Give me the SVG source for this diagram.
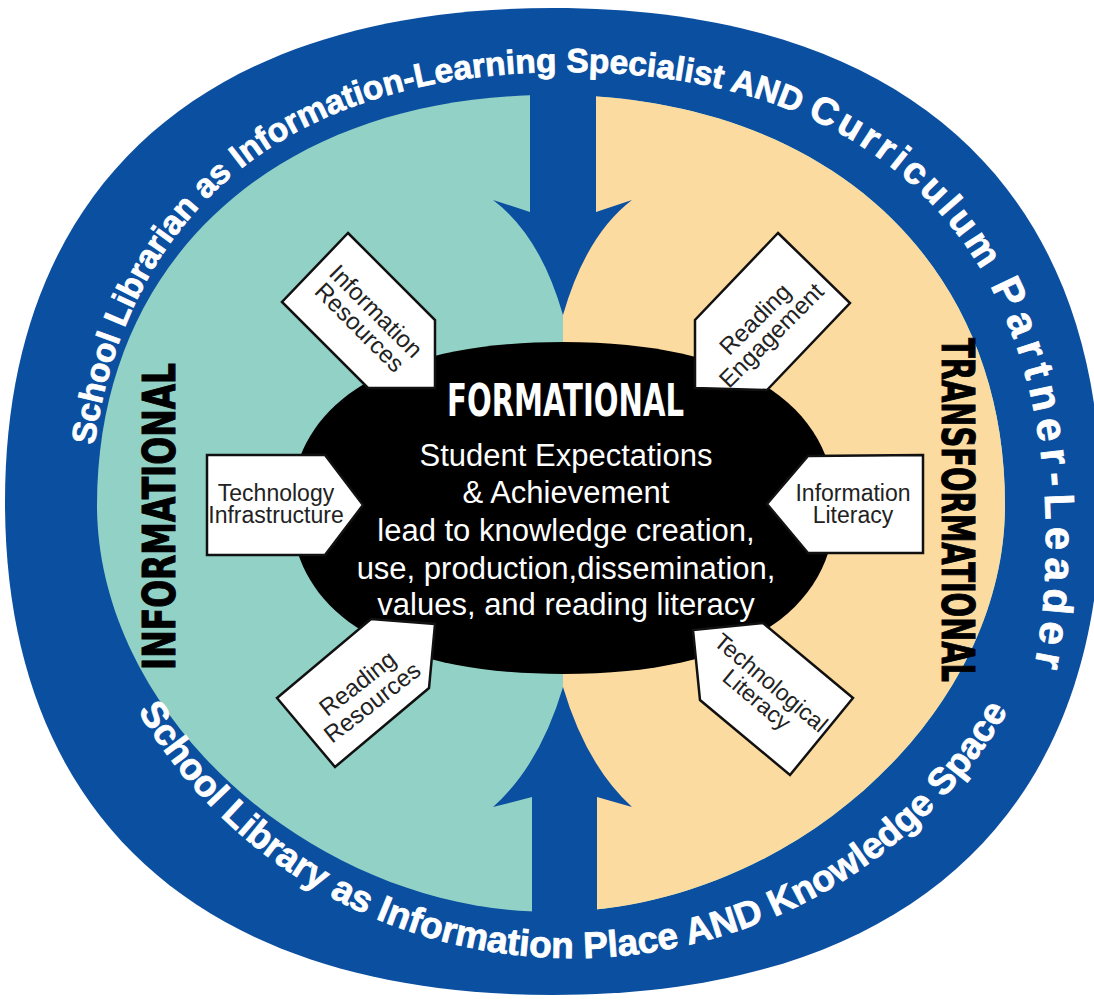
<svg xmlns="http://www.w3.org/2000/svg" width="1094" height="1000" viewBox="0 0 1094 1000">
<style>
.blue{fill:#0b4fa0}
.tag{fill:#fff;stroke:#111;stroke-width:2.5;stroke-linejoin:miter}
.tt{font-family:"Liberation Sans",Arial,sans-serif;font-size:23px;fill:#222;text-anchor:middle}
.td{font-size:24px}
.ct{font-family:"Liberation Sans",Arial,sans-serif;font-size:31px;fill:#fff;text-anchor:middle}
.big{font-family:"Liberation Sans Narrow","DejaVu Sans Condensed",sans-serif;font-weight:bold;font-size:44px;text-anchor:middle}
.rt{font-family:"Liberation Sans",Arial,sans-serif;font-weight:bold;fill:#fff;stroke:#fff;stroke-width:0.8}
</style>
<defs>
<clipPath id="rightHalf"><rect x="563" y="0" width="600" height="1000"/></clipPath>
<path id="topArc" d="M88,540 C88,240.5 260.4,72 567,72 C873.6,72 1046,240.5 1046,540 C1046,839.5 873.6,1008 567,1008"/>
<path id="botArc" d="M90,596.3 A500,488 0 0 0 1056,596.3"/>
<path id="inner" d="M1005,505 C1005,716.6 787,912 551,912 C315,912 97,716.6 97,505 C97,259 278.6,95 551,95 C823.4,95 1005,259 1005,505Z"/>
</defs>
<g id="ring">
<path class="blue" d="M1101,502 C1101,817.5 903.7,995 553,995 C202.3,995 5,817.5 5,502 C5,186.5 202.3,8 553,8 C903.7,8 1101,186.5 1101,502Z"/>
</g>
<g id="fields">
<use href="#inner" fill="#92d2c6"/>
<use href="#inner" fill="#fcdba0" clip-path="url(#rightHalf)"/>
</g>
<g id="connectors">
<path class="blue" d="M530,60 L530,212 L493,200 Q540,235 563,315 Q586,235 632,200 L596,212 L596,60 Z"/>
<path class="blue" d="M532,950 L532,797 L493,807 Q540,765 563,687 Q586,765 632,807 L597,797 L597,950 Z"/>
</g>
<g id="formational">
<path d="M835,508 C835,599.3 758.8,674 563,674 C367.2,674 291,599.3 291,508 C291,416.7 367.2,342 563,342 C758.8,342 835,416.7 835,508Z" fill="#000"/>
<text class="big" x="565.5" y="416" fill="#fff" textLength="237" lengthAdjust="spacingAndGlyphs">FORMATIONAL</text>
<text class="ct" x="566" y="466">Student Expectations</text>
<text class="ct" x="566" y="503">&amp; Achievement</text>
<text class="ct" x="566" y="541">lead to knowledge creation,</text>
<text class="ct" x="566" y="579">use, production,dissemination,</text>
<text class="ct" x="566" y="615">values, and reading literacy</text>
</g>
<g id="tag-information-resources">
<polygon class="tag" points="348,233 435,320 435,388 368,388 282,302"/>
<g transform="translate(368,319) rotate(45)"><text class="tt td" y="-3">Information</text><text class="tt td" y="20">Resources</text></g>
</g>
<g id="tag-reading-engagement">
<polygon class="tag" points="778,233 850,303 767,390 695,388 695,320"/>
<g transform="translate(763,327) rotate(-45)"><text class="tt td" y="-3">Reading</text><text class="tt td" y="20">Engagement</text></g>
</g>
<g id="tag-reading-resources">
<polygon class="tag" points="277,698 371,619 435,624 429,688 335,767"/>
<g transform="translate(365,693) rotate(-38)"><text class="tt td" y="-4">Reading</text><text class="tt td" y="20">Resources</text></g>
</g>
<g id="tag-technological-literacy">
<polygon class="tag" points="693,630 763,623 853,698 790,775 700,700"/>
<g transform="translate(764,691) rotate(40)"><text class="tt" y="-3">Technological</text><text class="tt" y="19">Literacy</text></g>
</g>
<g id="tag-technology-infrastructure">
<polygon class="tag" points="207,455 325,455 363,505 325,555 207,555"/>
<text class="tt" x="276" y="501">Technology</text>
<text class="tt" x="276" y="523">Infrastructure</text>
</g>
<g id="tag-information-literacy">
<polygon class="tag" points="923,455 808,456 767,504 808,553 923,553"/>
<text class="tt" x="853" y="501">Information</text>
<text class="tt" x="853" y="523">Literacy</text>
</g>
<g id="informational">
<text class="big" transform="translate(175,516.5) rotate(-90)" fill="#000" stroke="#000" stroke-width="1" textLength="307" lengthAdjust="spacingAndGlyphs">INFORMATIONAL</text>
</g>
<g id="transformational">
<text class="big" transform="translate(942,510) rotate(90)" fill="#000" stroke="#000" stroke-width="1" textLength="344" lengthAdjust="spacingAndGlyphs">TRANSFORMATIONAL</text>
</g>
<g id="ring-labels">
<text class="rt" font-size="33.5"><textPath href="#topArc" startOffset="95">School Librarian as Information-Learning Specialist AND <tspan font-size="38" letter-spacing="3.7">Curriculum </tspan><tspan font-size="42" letter-spacing="7">Partner-Leader</tspan></textPath></text>
<text class="rt" font-size="37"><textPath href="#botArc" startOffset="50%" text-anchor="middle">School Library as Information Place AND Knowledge Space</textPath></text>
</g>
</svg>
